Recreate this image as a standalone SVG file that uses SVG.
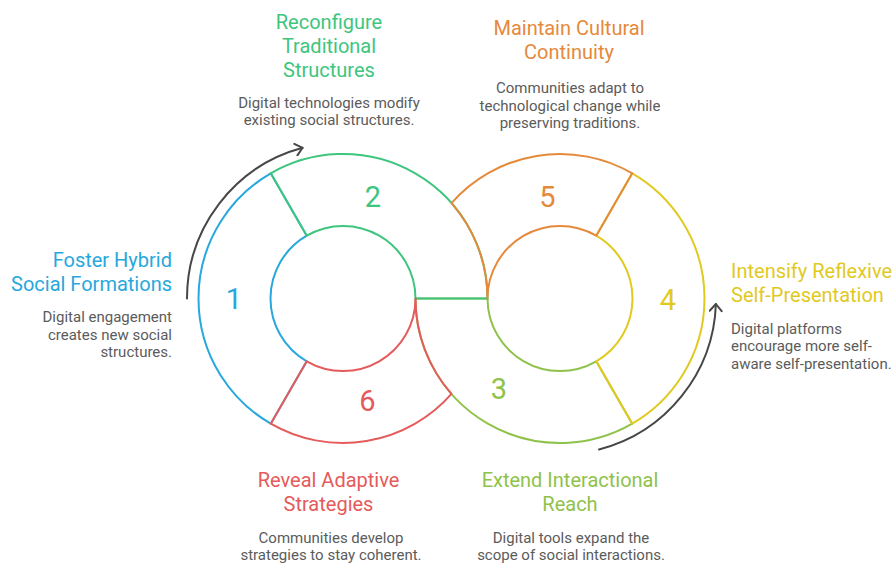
<svg xmlns="http://www.w3.org/2000/svg" width="893" height="563" viewBox="0 0 893 563">
  <style>
    .seg { fill: none; stroke-width: 2; stroke-linejoin: round; }
    .num { font-family: Roboto, "Liberation Sans", sans-serif; font-size: 29px; text-anchor: middle; }
    .title { font-family: Roboto, "Liberation Sans", sans-serif; font-size: 20px; }
    .desc { font-family: Roboto, "Liberation Sans", sans-serif; font-size: 15px; fill: #5b5b5b; }
    .flow { fill: none; stroke: #474747; stroke-width: 2; stroke-linecap: round; }
    .blue { stroke: #27a8dd; fill: #27a8dd; }
    .green { stroke: #3ec57e; fill: #3ec57e; }
    .orange { stroke: #e5893a; fill: #e5893a; }
    .yellow { stroke: #e1c91f; fill: #e1c91f; }
    .lime { stroke: #8fc24a; fill: #8fc24a; }
    .red { stroke: #e55a5a; fill: #e55a5a; }
    text.blue, text.green, text.orange, text.yellow, text.lime, text.red { stroke: none; }
  </style>
  <defs>
    <marker id="chevron" viewBox="-10 -7 12 14" markerWidth="12" markerHeight="14" refX="0" refY="0" orient="auto" markerUnits="userSpaceOnUse">
      <path d="M-7,-6 L0,0 L-7,6" fill="none" stroke="#474747" stroke-width="2" stroke-linecap="round" stroke-linejoin="round"/>
    </marker>
  </defs>
  <rect width="893" height="563" fill="#ffffff"/>

  <!-- circular flow arrows -->
  <g id="connectors">
    <path class="flow" d="M187,298.5 A156,156 0 0 1 302.6,147.8" marker-end="url(#chevron)"/>
    <path class="flow" d="M599,449.5 A156,156 0 0 0 715.9,304" marker-end="url(#chevron)"/>
  </g>

  <!-- ring segments, drawn in stacking order -->
  <g id="step-1">
    <path class="seg blue" style="fill:none" d="M270.75,173.36 A144.5,144.5 0 0 0 270.75,423.64 L306.75,361.29 A72.5,72.5 0 0 1 306.75,235.71 Z"/>
    <text class="num blue" x="234" y="309">1</text>
  </g>
  <g id="step-3">
    <path class="seg lime" style="fill:none" d="M632.25,423.64 A144.5,144.5 0 0 1 415.5,298.5 L487.5,298.5 A72.5,72.5 0 0 0 596.25,361.29 Z"/>
    <text class="num lime" x="499" y="399">3</text>
  </g>
  <g id="step-4">
    <path class="seg yellow" style="fill:none" d="M632.25,173.36 A144.5,144.5 0 0 1 632.25,423.64 L596.25,361.29 A72.5,72.5 0 0 0 596.25,235.71 Z"/>
    <text class="num yellow" x="668" y="310">4</text>
  </g>
  <g id="step-2">
    <path class="seg green" style="fill:none" d="M270.75,173.36 A144.5,144.5 0 0 1 487.5,298.5 L415.5,298.5 A72.5,72.5 0 0 0 306.75,235.71 Z"/>
    <text class="num green" x="373" y="206.5">2</text>
  </g>
  <g id="step-5">
    <path class="seg orange" style="fill:none" d="M632.25,173.36 A144.5,144.5 0 0 0 451.5,203.06 A144.5,144.5 0 0 1 487.5,298.5 A72.5,72.5 0 0 1 596.25,235.71 Z"/>
    <text class="num orange" x="547.5" y="206.5">5</text>
  </g>
  <g id="step-6">
    <path class="seg red" style="fill:none" d="M270.75,423.64 A144.5,144.5 0 0 0 451.5,393.94 A144.5,144.5 0 0 1 415.5,298.5 A72.5,72.5 0 0 1 306.75,361.29 Z"/>
    <text class="num red" x="367.5" y="410.5">6</text>
  </g>

  <!-- captions -->
  <g id="label-1">
    <text class="title blue" text-anchor="end" x="172" y="267">Foster Hybrid</text>
    <text class="title blue" text-anchor="end" x="172" y="291">Social Formations</text>
    <text class="desc" text-anchor="end" x="172" y="322">Digital engagement</text>
    <text class="desc" text-anchor="end" x="172" y="339.5">creates new social</text>
    <text class="desc" text-anchor="end" x="172" y="357">structures.</text>
  </g>
  <g id="label-2">
    <text class="title green" text-anchor="middle" x="329" y="29">Reconfigure</text>
    <text class="title green" text-anchor="middle" x="329" y="53">Traditional</text>
    <text class="title green" text-anchor="middle" x="329" y="77">Structures</text>
    <text class="desc" text-anchor="middle" x="329" y="108">Digital technologies modify</text>
    <text class="desc" text-anchor="middle" x="329" y="125">existing social structures.</text>
  </g>
  <g id="label-5">
    <text class="title orange" text-anchor="middle" x="569" y="35">Maintain Cultural</text>
    <text class="title orange" text-anchor="middle" x="569" y="59">Continuity</text>
    <text class="desc" text-anchor="middle" x="570" y="93">Communities adapt to</text>
    <text class="desc" text-anchor="middle" x="570" y="110.5">technological change while</text>
    <text class="desc" text-anchor="middle" x="570" y="128">preserving traditions.</text>
  </g>
  <g id="label-4">
    <text class="title yellow" x="731" y="278">Intensify Reflexive</text>
    <text class="title yellow" x="731" y="302">Self-Presentation</text>
    <text class="desc" x="731" y="333.5">Digital platforms</text>
    <text class="desc" x="731" y="351">encourage more self-</text>
    <text class="desc" x="731" y="368.5">aware self-presentation.</text>
  </g>
  <g id="label-6">
    <text class="title red" text-anchor="middle" x="328.5" y="487">Reveal Adaptive</text>
    <text class="title red" text-anchor="middle" x="328.5" y="511">Strategies</text>
    <text class="desc" text-anchor="middle" x="331" y="543">Communities develop</text>
    <text class="desc" text-anchor="middle" x="331" y="560">strategies to stay coherent.</text>
  </g>
  <g id="label-3">
    <text class="title lime" text-anchor="middle" x="570" y="487">Extend Interactional</text>
    <text class="title lime" text-anchor="middle" x="570" y="511">Reach</text>
    <text class="desc" text-anchor="middle" x="571" y="543">Digital tools expand the</text>
    <text class="desc" text-anchor="middle" x="571" y="560">scope of social interactions.</text>
  </g>
</svg>
